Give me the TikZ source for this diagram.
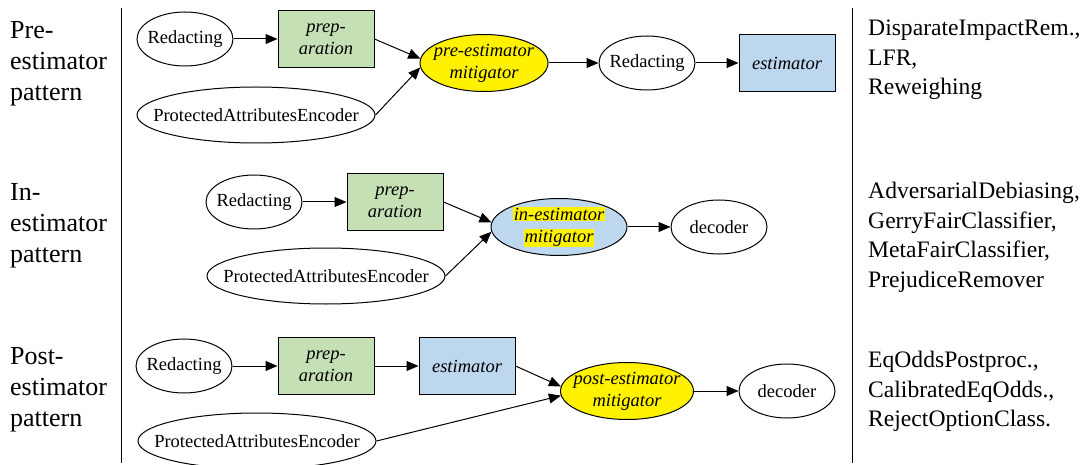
\documentclass[tikz,border=0pt]{standalone}
\usepackage{fontspec}
\setmainfont{Liberation Serif}
\usepackage{xcolor}
\usetikzlibrary{positioning, shapes, arrows.meta}

\definecolor{prepgreen}{RGB}{197,224,180}
\definecolor{estblue}{RGB}{189,215,238}
\newcommand{\zw}[1]{\makebox[0pt]{#1}}
\newcommand{\hlyel}[1]{{\fboxsep=0.5pt\colorbox{yellow}{#1}}}

\begin{document}
\begin{tikzpicture}[x=1pt, y=-1pt,
      every node/.style={font=\fontsize{18.5}{22}\selectfont},
      oval/.style={ellipse, draw, line width=1pt, inner sep=0pt, minimum width=96pt, minimum height=54pt},
      mitig/.style={oval, align=center, font=\fontsize{18.5}{22}\selectfont\itshape, minimum height=57pt},
      box/.style={rectangle, draw, line width=1pt, inner sep=0pt, minimum width=96pt, minimum height=57pt,
        align=center, font=\fontsize{18.5}{22}\selectfont\itshape},
      link/.style={-{Triangle[length=12pt, width=10pt]}, line width=1pt},
      rowtitle/.style={anchor=north west, inner sep=0pt, align=left, font=\fontsize{26}{31}\selectfont},
      methods/.style={anchor=north west, inner sep=0pt, align=left, font=\fontsize{23.6}{29.5}\selectfont}]

      \useasboundingbox (0,0) rectangle (1084,465);

      % Separators
      \draw[line width=1pt] (121,8) -- (121,463);
      \draw[line width=1pt] (852,8) -- (852,463);

      % Row titles
      \node[rowtitle] (pretitle) at (10,21) {Pre-\\estimator\\pattern};
      \node[rowtitle] (intitle) at (10,183) {In-\\estimator\\pattern};
      \node[rowtitle] (posttitle) at (10,347) {Post-\\estimator\\pattern};

      % Pre-estimator
      \node[oval] (red1) at (185,39) {\zw{Redacting}};
      \node[box, fill=prepgreen] (prep1) at (326,39) {prep-\\aration};
      \node[oval, minimum width=238pt, minimum height=56pt] (pae1) at (256,115) {\zw{ProtectedAttributesEncoder}};
      \node[mitig, fill=yellow, minimum width=128pt] (premit) at (484,63) {\zw{pre-estimator}\\\zw{mitigator}};
      \node[oval] (red1b) at (647,63) {\zw{Redacting}};
      \node[box, fill=estblue] (est1) at (787,63) {estimator};

      \draw[link] (red1) -- (prep1);
      \draw[link] (prep1.east) -- (premit.176);
      \draw[link] (pae1.east) -- (premit.184);
      \draw[link] (premit) -- (red1b);
      \draw[link] (red1b) -- (est1);

      % In-estimator
      \node[oval] (red2) at (254,202) {\zw{Redacting}};
      \node[box, fill=prepgreen] (prep2) at (395,202) {prep-\\aration};
      \node[oval, minimum width=238pt, minimum height=56pt] (pae2) at (326,276) {\zw{ProtectedAttributesEncoder}};
      \node[mitig, fill=estblue, minimum width=136pt] (inmit) at (559,227) {\zw{\hlyel{in-estimator}}\\\zw{\hlyel{mitigator}}};
      \node[oval] (dec2) at (719,227) {\zw{decoder}};

      \draw[link] (red2) -- (prep2);
      \draw[link] (prep2.east) -- (inmit.176);
      \draw[link] (pae2.east) -- (inmit.184);
      \draw[link] (inmit) -- (dec2);

      % Post-estimator
      \node[oval] (red3) at (184,366) {\zw{Redacting}};
      \node[box, fill=prepgreen] (prep3) at (326,366) {prep-\\aration};
      \node[box, fill=estblue] (est3) at (467,366) {estimator};
      \node[oval, minimum width=238pt, minimum height=56pt] (pae3) at (257,441) {\zw{ProtectedAttributesEncoder}};
      \node[mitig, fill=yellow, minimum width=133pt] (postmit) at (627,391) {\zw{post-estimator}\\\zw{mitigator}};
      \node[oval] (dec3) at (787,391) {\zw{decoder}};

      \draw[link] (red3) -- (prep3);
      \draw[link] (prep3) -- (est3);
      \draw[link] (est3.east) -- (postmit.176);
      \draw[link] (pae3.east) -- (postmit.184);
      \draw[link] (postmit) -- (dec3);

      % Mitigator lists
      \node[methods] (prelist) at (868,20) {DisparateImpactRem.,\\LFR,\\Reweighing};
      \node[methods] (inlist) at (868,182) {AdversarialDebiasing,\\GerryFairClassifier,\\MetaFairClassifier,\\PrejudiceRemover};
      \node[methods] (postlist) at (868,351) {EqOddsPostproc.,\\CalibratedEqOdds.,\\RejectOptionClass.};
\end{tikzpicture}
\end{document}
